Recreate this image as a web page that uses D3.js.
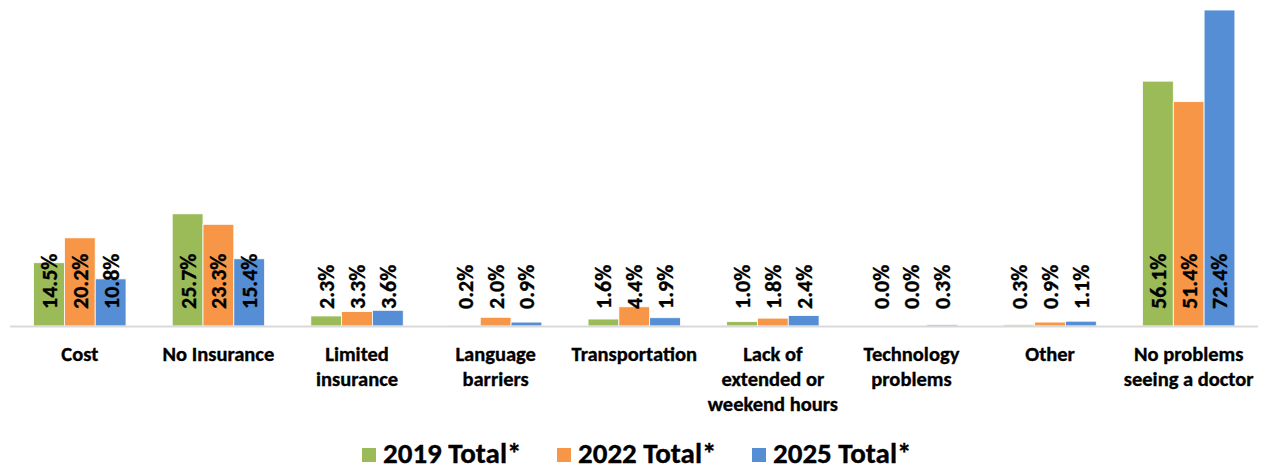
<!DOCTYPE html>
<html>
<head>
<meta charset="utf-8">
<script src="https://cdn.jsdelivr.net/npm/d3@7"></script>
<style>
  html, body { margin: 0; padding: 0; background: #ffffff; }
  svg { display: block; }
  text { font-family: Carlito, Calibri, Lato, "Open Sans", sans-serif; font-weight: bold; fill: #000; stroke: #000; stroke-width: 0.35px; }
</style>
</head>
<body>
<svg id="chart" width="1268" height="474"></svg>
<script>
// Reported barriers to seeing a doctor, by survey year (percent of respondents)
const categories = [
  ["Cost"],
  ["No Insurance"],
  ["Limited", "insurance"],
  ["Language", "barriers"],
  ["Transportation"],
  ["Lack of", "extended or", "weekend hours"],
  ["Technology", "problems"],
  ["Other"],
  ["No problems", "seeing a doctor"]
];
const seriesNames = ["2019 Total*", "2022 Total*", "2025 Total*"];
const values2019 = [14.5, 25.7, 2.3, 0.2, 1.6, 1.0, 0.0, 0.3, 56.1];
const values2022 = [20.2, 23.3, 3.3, 2.0, 4.4, 1.8, 0.0, 0.9, 51.4];
const values2025 = [10.8, 15.4, 3.6, 0.9, 1.9, 2.4, 0.3, 1.1, 72.4];
const colors = ["#9BBB59", "#F79646", "#558ED5"];

const series = [values2019, values2022, values2025];
const svg = d3.select("#chart");

const baseY = 326;
const x0 = d3.scaleBand()
  .domain(d3.range(categories.length))
  .range([10.5, 1258])
  .paddingInner(1.5 / 4.5)
  .paddingOuter(0.75 / 4.5);
const x1 = d3.scaleBand()
  .domain(d3.range(series.length))
  .range([0, x0.bandwidth()]);
const y = d3.scaleLinear().domain([0, 72.4]).range([baseY, 10]);

// bars
const groups = svg.append("g").selectAll("g")
  .data(categories.map((c, i) => i))
  .join("g")
  .attr("transform", i => `translate(${x0(i)},0)`);

groups.selectAll("rect")
  .data(i => series.map((s, k) => ({ k, v: s[i] })))
  .join("rect")
  .attr("x", d => x1(d.k))
  .attr("width", x1.bandwidth())
  .attr("y", d => y(d.v))
  .attr("height", d => baseY - y(d.v))
  .attr("fill", d => colors[d.k])
  .attr("stroke", "#ffffff")
  .attr("stroke-width", 0.8);

// category axis line
svg.append("line")
  .attr("x1", 10).attr("x2", 1258)
  .attr("y1", baseY + 0.5).attr("y2", baseY + 0.5)
  .attr("stroke", "#d9d9d9").attr("stroke-width", 2);

// value labels, rotated, at bar base
groups.selectAll("text.val")
  .data(i => series.map((s, k) => ({ k, v: s[i] })))
  .join("text")
  .attr("class", "val")
  .attr("transform", d => `translate(${x1(d.k) + x1.bandwidth() / 2},${baseY - 17}) rotate(-90)`)
  .attr("dy", "0.36em")
  .attr("text-anchor", "start")
  .style("font-size", "22px")
  .text(d => d.v.toFixed(1) + "%");

// category labels
const catLabels = svg.append("g").selectAll("text")
  .data(categories)
  .join("text")
  .attr("x", (c, i) => x0(i) + x0.bandwidth() / 2)
  .attr("y", 361)
  .attr("text-anchor", "middle")
  .style("font-size", "20.5px");
catLabels.selectAll("tspan")
  .data(c => c)
  .join("tspan")
  .attr("x", function () { return this.parentNode.getAttribute("x"); })
  .attr("dy", (d, j) => j === 0 ? 0 : 25)
  .text(d => d);

// legend
const legendX = [362, 557, 752];
const legend = svg.append("g").selectAll("g")
  .data(seriesNames)
  .join("g")
  .attr("transform", (d, i) => `translate(${legendX[i]},448)`);
legend.append("rect")
  .attr("width", 14).attr("height", 14)
  .attr("fill", (d, i) => colors[i]);
legend.append("text")
  .attr("x", 21).attr("y", 15)
  .style("font-size", "29px")
  .text(d => d);
</script>
</body>
</html>
